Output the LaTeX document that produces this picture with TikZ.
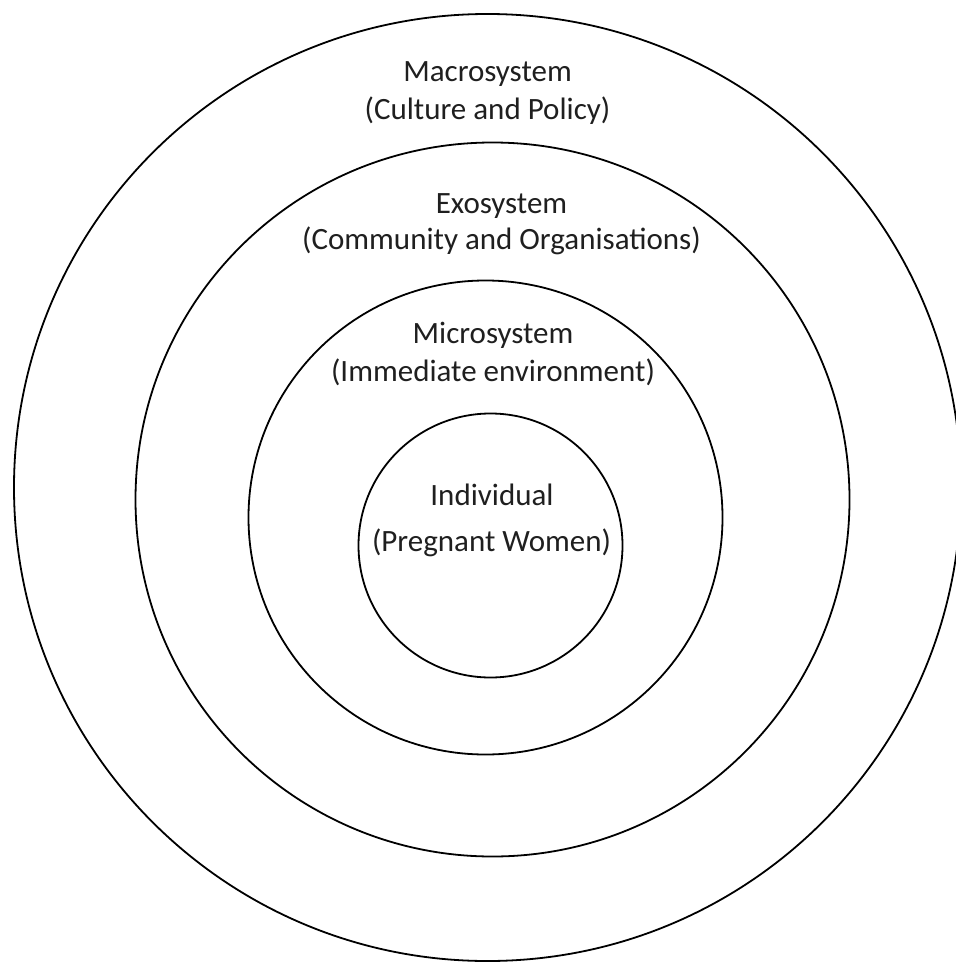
\documentclass[tikz,border=0pt]{standalone}
\usepackage{fontspec}
\setmainfont{Carlito}
\begin{document}
\begin{tikzpicture}[x=1pt,y=-1pt,
  ring/.style={circle, draw=black, line width=1.8pt, inner sep=0pt},
  lbl/.style={anchor=base, inner sep=0pt, text=black!88, font=\fontsize{31}{37}\selectfont}]
\useasboundingbox[fill=white] (0,0) rectangle (955,963);
\node[ring, minimum size=947pt] (macro) at (487.5,487.5) {};
\node[ring, minimum size=714pt] (exo) at (492.5,499.5) {};
\node[ring, minimum size=474pt] (micro) at (485.5,517.5) {};
\node[ring, minimum size=264pt] (indiv) at (490.5,545.5) {};
\node[lbl] (macroA) at (487.5,81.5) {Macrosystem};
\node[lbl] (macroB) at (487.5,120) {(Culture and Policy)};
\node[lbl] (exoA) at (501.5,213) {Exosystem};
\node[lbl] (exoB) at (501.5,249) {(Community and Organisations)};
\node[lbl] (microA) at (493,343) {Microsystem};
\node[lbl] (microB) at (493,381.5) {(Immediate environment)};
\node[lbl] (indivA) at (492,505) {Individual};
\node[lbl] (indivB) at (491.5,551.5) {(Pregnant Women)};
\end{tikzpicture}
\end{document}
